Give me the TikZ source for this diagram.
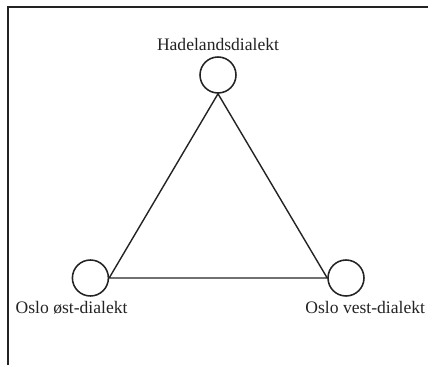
\documentclass[tikz,border=0pt]{standalone}
\usepackage{fontspec}
\setmainfont{Liberation Serif}
\usepackage{tikz}
\usetikzlibrary{positioning}
\definecolor{inkgray}{RGB}{35,35,35}

\begin{document}
\begin{tikzpicture}[
dot/.style={draw=inkgray, circle, line width=1.1pt, minimum size=0.9cm, inner sep=0pt},
lbl/.style={text=inkgray, font=\fontsize{12.5}{14}\selectfont, inner sep=2pt},
link/.style={inkgray, line width=1pt},
frame/.style={inkgray, line width=1.3pt}
]
\useasboundingbox (0,0) rectangle (10.7,-9.125);
\coordinate (cornerTL) at (0.2,-0.175);
\coordinate (cornerTR) at (10.75,-0.175);
\coordinate (cornerBL) at (0.2,-9.2);
\draw[frame] (cornerTR) -- (cornerTL) -- (cornerBL);

\node[dot] (hadeland) at (5.45,-1.875) {};
\node[dot] (oest) at (2.26,-6.95) {};
\node[dot] (vest) at (8.65,-6.95) {};

\node[lbl, above=2pt of hadeland] (hadelandlbl) {Hadelandsdialekt};
\node[lbl, below=1pt of oest, xshift=-0.47cm] (oestlbl) {Oslo øst-dialekt};
\node[lbl, below=1pt of vest, xshift=0.48cm] (vestlbl) {Oslo vest-dialekt};

\draw[link] (hadeland.south) -- (oest.east) -- (vest.west) -- cycle;
\end{tikzpicture}
\end{document}
